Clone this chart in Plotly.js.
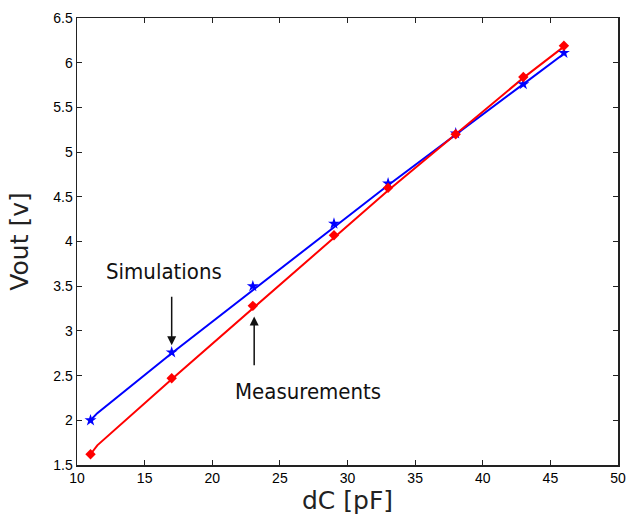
<!DOCTYPE html>
<html>
<head>
<meta charset="utf-8">
<script src="https://cdn.plot.ly/plotly-3.0.1.min.js"></script>
<style>html,body{margin:0;padding:0;background:#fff;}#chart{width:627px;height:519px;}</style>
</head>
<body>
<div id="chart"></div>
<script>
// Data
var dC = [11, 17, 23, 29, 33, 38, 43, 46];
var simulations = [2.0, 2.76, 3.5, 4.2, 4.65, 5.21, 5.76, 6.11];
var measurements = [1.62, 2.47, 3.28, 4.07, 4.6, 5.2, 5.84, 6.19];

var fitX = [11, 11.5, 17, 23, 29, 33, 38, 43, 46];
var simFit = [2.0, 2.08, 2.75, 3.46, 4.16, 4.63, 5.2, 5.76, 6.1];
var measFit = [1.62, 1.72, 2.46, 3.25, 4.05, 4.57, 5.2, 5.83, 6.18];

var xTicks = [10, 15, 20, 25, 30, 35, 40, 45, 50];
var yTicks = [1.5, 2, 2.5, 3, 3.5, 4, 4.5, 5, 5.5, 6, 6.5];

var blue = '#0000ff', red = '#ff0000';

var traces = [
  {x: fitX, y: simFit, mode: 'lines', line: {color: blue, width: 2}, hoverinfo: 'skip'},
  {x: fitX, y: measFit, mode: 'lines', line: {color: red, width: 2}, hoverinfo: 'skip'},
  {x: dC, y: simulations, mode: 'markers', marker: {symbol: 'star', size: 9, color: blue}},
  {x: dC, y: measurements, mode: 'markers', marker: {symbol: 'diamond', size: 8, color: red}}
];

var tickFont = {family: 'Liberation Sans, Arial, sans-serif', size: 14, color: '#000'};
var titleFont = {family: 'DejaVu Sans, sans-serif', size: 25, color: '#222'};
var annFont = {family: 'DejaVu Sans Condensed, DejaVu Sans, sans-serif', size: 22, color: '#111'};

var layout = {
  width: 627, height: 519,
  margin: {l: 77, r: 9, t: 18, b: 54},
  paper_bgcolor: '#fff', plot_bgcolor: '#fff',
  showlegend: false,
  xaxis: {
    range: [10, 50], tickvals: xTicks, ticktext: xTicks.map(String),
    ticks: 'inside', ticklen: 5, tickcolor: '#222', tickwidth: 1,
    showline: true, linecolor: '#222', linewidth: 1.5, mirror: 'ticks',
    showgrid: false, zeroline: false, tickfont: tickFont,
    title: {text: 'dC [pF]', font: titleFont, standoff: 4}
  },
  yaxis: {
    range: [1.5, 6.5], tickvals: yTicks, ticktext: yTicks.map(String),
    ticks: 'inside', ticklen: 5, tickcolor: '#222', tickwidth: 1,
    showline: true, linecolor: '#222', linewidth: 1.5, mirror: 'ticks',
    showgrid: false, zeroline: false, tickfont: tickFont,
    title: {text: 'Vout [v]', font: titleFont, standoff: 17}
  },
  annotations: [
    {x: 17, y: 2.84, ax: 17, ay: 3.40, xref: 'x', yref: 'y', axref: 'x', ayref: 'y',
     showarrow: true, arrowhead: 2, arrowsize: 1.2, arrowwidth: 1.5, arrowcolor: '#111', text: ''},
    {x: 23.1, y: 3.16, ax: 23.1, ay: 2.6, xref: 'x', yref: 'y', axref: 'x', ayref: 'y',
     showarrow: true, arrowhead: 2, arrowsize: 1.2, arrowwidth: 1.5, arrowcolor: '#111', text: ''},
    {x: 16.4, y: 3.66, xref: 'x', yref: 'y', text: 'Simulations', showarrow: false, font: annFont},
    {x: 27.05, y: 2.32, xref: 'x', yref: 'y', text: 'Measurements', showarrow: false, font: annFont}
  ]
};

Plotly.newPlot('chart', traces, layout, {displayModeBar: false, staticPlot: true});
</script>
</body>
</html>
